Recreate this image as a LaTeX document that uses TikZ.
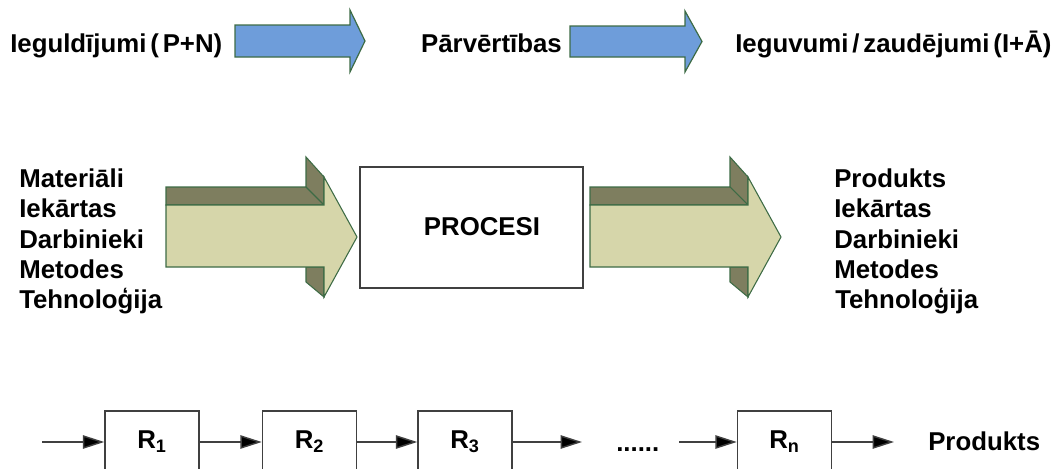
\documentclass[tikz,border=0pt]{standalone}
\usepackage{fontspec}
\setmainfont{Liberation Sans}
\usetikzlibrary{arrows.meta}
\definecolor{arrowblue}{HTML}{6E9DDA}
\definecolor{arrowedge}{HTML}{3D6B45}
\definecolor{frontkhaki}{HTML}{D6D6AA}
\definecolor{shadeolive}{HTML}{7E7E5F}
\definecolor{boxedge}{HTML}{404040}
\begin{document}
\begin{tikzpicture}[x=0.75pt,y=-0.75pt,
  lbl/.style={font=\fontsize{19.35}{23}\selectfont\bfseries, inner sep=0pt, anchor=base west},
  bluearrow/.style={fill=arrowblue, draw=arrowedge, line width=0.9pt, line join=miter},
  frontface/.style={fill=frontkhaki, draw=arrowedge, line width=0.8pt},
  sideface/.style={fill=shadeolive, draw=arrowedge, line width=0.8pt},
  procbox/.style={draw=boxedge, line width=1.1pt, fill=white, inner sep=0pt},
  rbox/.style={draw=boxedge, line width=1.1pt, inner sep=0pt, minimum width=70.5pt, minimum height=46.5pt,
    font=\fontsize{19.35}{23}\selectfont\bfseries},
  flow/.style={draw=boxedge, line width=1.1pt, -{Triangle[length=16pt,width=10pt,fill=black]}}]
\useasboundingbox (0,0) rectangle (1056,468);
\clip (0,0) rectangle (1056,468);

% top row: investments -> transformations -> gains/losses
\node[lbl] (inv) at (10,52) {Ieguldījumi\hspace{0.15em}(\hspace{0.15em}P+N)};
\path[bluearrow] (235,25) -- (350,25) -- (350,10) -- (365,41) -- (350,72) -- (350,57) -- (235,57) -- cycle;
\node[lbl, anchor=base east] (trans) at (562,52) {Pārvērtības};
\path[bluearrow] (570,26) -- (685,26) -- (685,11) -- (702,41.5) -- (685,72) -- (685,57) -- (570,57) -- cycle;
\node[lbl] (res) at (735,52) {Ieguvumi\hspace{0.15em}/\hspace{0.15em}zaudējumi\hspace{0.15em}(I+Ā)};

% middle row: extruded arrows into and out of the process box
\foreach \dx in {0,424}{
  \begin{scope}[shift={(\dx,0)}]
    \path[sideface] (166,187) -- (306,187) -- (306,157) -- (324,177) -- (324,205) -- (166,205) -- cycle;
    \draw[arrowedge, line width=0.8pt] (306,187) -- (324,205);
    \path[sideface] (306,267) -- (306,282) -- (324,297) -- (324,267) -- cycle;
    \path[frontface] (166,205) -- (324,205) -- (324,177) -- (357,237) -- (324,297) -- (324,267) -- (166,267) -- cycle;
  \end{scope}
}
\node[procbox, minimum width=167.25pt, minimum height=90.75pt] (proc) at (471.5,227.5) {};
\node[lbl, anchor=center] (proclbl) at (482,227) {PROCESI};

\node[lbl] (in1) at (19,187) {Materiāli};
\node[lbl] (in2) at (19,217.5) {Iekārtas};
\node[lbl] (in3) at (19,248) {Darbinieki};
\node[lbl] (in4) at (19,278) {Metodes};
\node[lbl] (in5) at (19,308) {Tehnoloģija};

\node[lbl] (out1) at (834,187) {Produkts};
\node[lbl] (out2) at (834,217.5) {Iekārtas};
\node[lbl] (out3) at (834,248) {Darbinieki};
\node[lbl] (out4) at (834,278) {Metodes};
\node[lbl] (out5) at (835,308) {Tehnoloģija};

% bottom row: chain of stages
\coordinate (start) at (42,442);
\node[rbox] (r1) at (152,442) {R\textsubscript{1}};
\node[rbox] (r2) at (309.5,442) {R\textsubscript{2}};
\node[rbox] (r3) at (465,442) {R\textsubscript{3}};
\coordinate (gapin) at (582,442);
\node[lbl] (dots) at (616,451) {......};
\coordinate (gapout) at (679,442);
\node[rbox] (rn) at (784.5,442) {R\textsubscript{n}};
\coordinate (endpt) at (894,442);
\node[lbl] (prod) at (928,450.5) {Produkts};

\draw[flow] (start) -- (r1.west);
\draw[flow] (r1.east) -- (r2.west);
\draw[flow] (r2.east) -- (r3.west);
\draw[flow] (r3.east) -- (gapin);
\draw[flow] (gapout) -- (rn.west);
\draw[flow] (rn.east) -- (endpt);
\end{tikzpicture}
\end{document}
